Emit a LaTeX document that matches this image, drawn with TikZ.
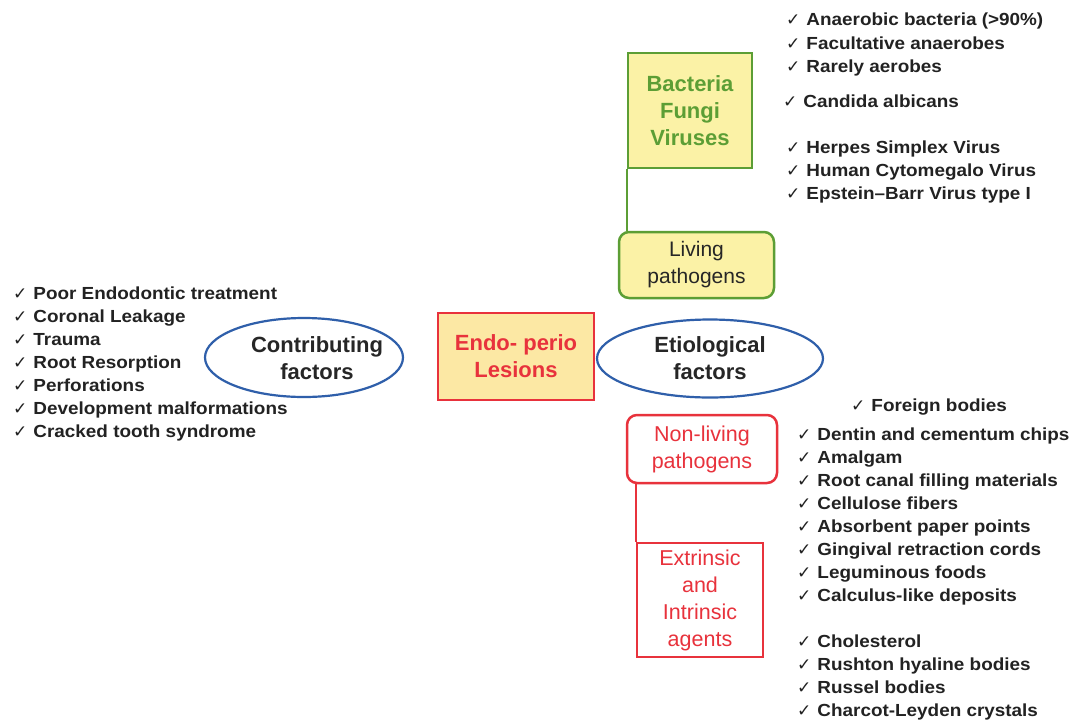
\documentclass[tikz,border=0pt]{standalone}
\usepackage{fontspec}
\setmainfont{Liberation Sans}
\newfontfamily\listfont{Liberation Sans}[FakeStretch=1.08]
\newfontfamily\tickfont{DejaVu Sans}
\usetikzlibrary{shapes.geometric}

\definecolor{boxyellow}{HTML}{FBF2A6}
\definecolor{lesionfill}{HTML}{FCE8A4}
\definecolor{leafgreen}{HTML}{5C9E35}
\definecolor{agentred}{HTML}{E8323C}
\definecolor{ovalblue}{HTML}{2F5FAA}
\definecolor{listgray}{HTML}{222222}

\newcommand{\okmark}{{\tickfont\fontsize{17}{17}\selectfont ✓}\hspace{6pt}}

\tikzset{
  item/.style={anchor=base west, inner sep=0pt, text=listgray, font=\listfont\bfseries\fontsize{17.5}{23}\selectfont},
  oval/.style={ellipse, draw=ovalblue, line width=2.2pt, fill=white, align=center, inner sep=-3pt, text=black!85, font=\bfseries\fontsize{22}{27}\selectfont},
  greenbox/.style={draw=leafgreen, line width=2.5pt, fill=boxyellow, align=center, inner sep=0pt, font=\fontsize{21}{27}\selectfont},
  redbox/.style={draw=agentred, line width=2.5pt, fill=white, text=agentred, align=center, inner sep=0pt, font=\fontsize{21.5}{27}\selectfont},
}

\begin{document}
\begin{tikzpicture}[x=1pt,y=-1pt]

	\useasboundingbox[fill=white] (0,0) rectangle (1074,721);

	% centre of the map
	\node[draw=agentred, line width=2.5pt, fill=lesionfill, text=agentred, align=center, inner sep=0pt,
	      minimum width=156pt, minimum height=87pt, font=\bfseries\fontsize{22}{27}\selectfont]
	      (lesion) at (516,356.5) {Endo- perio\\Lesions};

	% the two ovals
	\node[oval, minimum width=198pt, minimum height=79pt] (cf) at (304,357.5) {};
	\node[align=center, inner sep=0pt, text=black!85, font=\bfseries\fontsize{22}{27}\selectfont]
	      (cftext) at (317,358) {Contributing\\factors};
	\node[oval, minimum width=226pt, minimum height=78pt] (ef) at (710,358.5) {Etiological\\factors};

	% living side
	\node[greenbox, text=leafgreen, minimum width=124pt, minimum height=115pt, font=\bfseries\fontsize{22}{27}\selectfont]
	      (bfv) at (690,110.5) {Bacteria\\Fungi\\Viruses};
	\node[greenbox, rounded corners=10pt, text=black!85, minimum width=155pt, minimum height=66pt]
	      (living) at (696.5,265) {Living\\pathogens};
	\draw[leafgreen, line width=2.5pt] (bfv.south west) -- (bfv.south west |- living.north);

	% non-living side
	\node[redbox, rounded corners=10pt, minimum width=150pt, minimum height=68pt]
	      (nonliving) at (702,449) {Non-living\\pathogens};
	\node[redbox, minimum width=126pt, minimum height=114pt]
	      (agents) at (700,600) {Extrinsic\\and\\Intrinsic\\agents};
	\draw[agentred, line width=2.5pt] (nonliving.south -| agents.west) -- (agents.north west);

	% contributing factors
	\node[item] (c1) at (13,299) {\okmark Poor Endodontic treatment};
	\node[item] (c2) at (13,322) {\okmark Coronal Leakage};
	\node[item] (c3) at (13,345) {\okmark Trauma};
	\node[item] (c4) at (13,368) {\okmark Root Resorption};
	\node[item] (c5) at (13,391) {\okmark Perforations};
	\node[item] (c6) at (13,414) {\okmark Development malformations};
	\node[item] (c7) at (13,437) {\okmark Cracked tooth syndrome};

	% microorganisms
	\node[item] (m1) at (786,25) {\okmark Anaerobic bacteria (>90\%)};
	\node[item] (m2) at (786,49) {\okmark Facultative anaerobes};
	\node[item] (m3) at (786,72) {\okmark Rarely aerobes};
	\node[item] (m4) at (783,107) {\okmark Candida albicans};
	\node[item] (m5) at (786,153) {\okmark Herpes Simplex Virus};
	\node[item] (m6) at (786,176) {\okmark Human Cytomegalo Virus};
	\node[item] (m7) at (786,199) {\okmark Epstein–Barr Virus type I};

	% foreign bodies
	\node[item] (f0) at (851,411) {\okmark Foreign bodies};
	\node[item] (f1) at (797,440) {\okmark Dentin and cementum chips};
	\node[item] (f2) at (797,463) {\okmark Amalgam};
	\node[item] (f3) at (797,486) {\okmark Root canal filling materials};
	\node[item] (f4) at (797,509) {\okmark Cellulose fibers};
	\node[item] (f5) at (797,532) {\okmark Absorbent paper points};
	\node[item] (f6) at (797,555) {\okmark Gingival retraction cords};
	\node[item] (f7) at (797,578) {\okmark Leguminous foods};
	\node[item] (f8) at (797,601) {\okmark Calculus-like deposits};
	\node[item] (f9) at (797,647) {\okmark Cholesterol};
	\node[item] (f10) at (797,670) {\okmark Rushton hyaline bodies};
	\node[item] (f11) at (797,693) {\okmark Russel bodies};
	\node[item] (f12) at (797,716) {\okmark Charcot-Leyden crystals};

\end{tikzpicture}
\end{document}
